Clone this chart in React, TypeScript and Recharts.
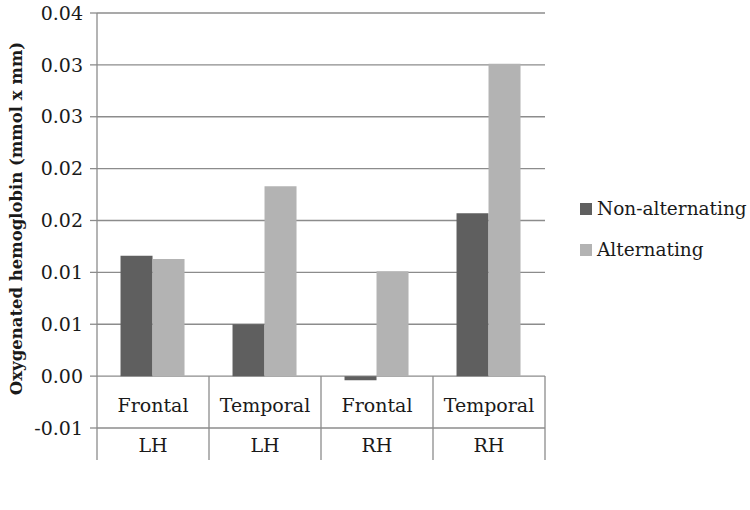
import { Bar, BarChart, CartesianGrid, XAxis, YAxis } from "recharts"

// regions and hemispheres, one entry per group
const regions = ["Frontal", "Temporal", "Frontal", "Temporal"]
const hemispheres = ["LH", "LH", "RH", "RH"]

// oxygenated hemoglobin per condition
const nonAlternating = [0.0116, 0.005, -0.0004, 0.0157]
const alternating = [0.0113, 0.0183, 0.0101, 0.0301]

const seriesNames = ["Non-alternating", "Alternating"]

// the original axis rounds 0.005 steps to two decimals
const yTickValues = [-0.005, 0, 0.005, 0.01, 0.015, 0.02, 0.025, 0.03, 0.035]
const yTickLabels = ["-0.01", "0.00", "0.01", "0.01", "0.02", "0.02", "0.03", "0.03", "0.04"]

const data = regions.map((region, i) => ({
  key: `${hemispheres[i]}-${region}-${i}`,
  region,
  hemi: hemispheres[i],
  nonAlt: nonAlternating[i],
  alt: alternating[i],
}))

const FONT = "'DejaVu Serif', 'Liberation Serif', serif"
const GRID = "#8c8c8c"
const DARK = "#5f5f5f"
const LIGHT = "#b3b3b3"

const HALF_BAND = 56

const CategoryTick = (props: any) => {
  const { x, y, index } = props
  const row = data[index]
  return (
    <g>
      <text x={x} y={y - 16} textAnchor="middle" fontFamily={FONT} fontSize={19} fill="#1a1a1a">
        {row.region}
      </text>
      <text x={x} y={y + 24} textAnchor="middle" fontFamily={FONT} fontSize={19} fill="#1a1a1a">
        {row.hemi}
      </text>
      <line x1={x + HALF_BAND} x2={x + HALF_BAND} y1={y - 52} y2={y + 32} stroke={GRID} strokeWidth={1.3} />
      {index === 0 && (
        <line x1={x - HALF_BAND} x2={x - HALF_BAND} y1={y} y2={y + 32} stroke={GRID} strokeWidth={1.3} />
      )}
    </g>
  )
}

export default function App() {
  return (
    <div style={{ position: "absolute", left: 0, top: 0, width: 750, height: 510, background: "#fff" }}>
      <BarChart
        width={750}
        height={510}
        data={data}
        margin={{ top: 13, right: 205, bottom: 32, left: 0 }}
        barCategoryGap="21%"
        barGap={0}
      >
        <CartesianGrid vertical={false} stroke={GRID} strokeWidth={1.3} />
        <XAxis
          dataKey="key"
          axisLine={false}
          tickLine={false}
          tickSize={0}
          tickMargin={0}
          interval={0}
          tick={<CategoryTick />}
          height={50}
        />
        <YAxis
          width={97}
          domain={[-0.005, 0.035]}
          ticks={yTickValues}
          tickFormatter={(v: number) => yTickLabels[yTickValues.indexOf(v)]}
          axisLine={{ stroke: GRID, strokeWidth: 1.3 }}
          tickLine={{ stroke: GRID, strokeWidth: 1.3 }}
          tickSize={7}
          tickMargin={7}
          tick={{ fontFamily: FONT, fontSize: 19, fill: "#1a1a1a" }}
          label={{
            value: "Oxygenated hemoglobin (mmol x mm)",
            angle: -90,
            position: "center",
            dx: -32,
            dy: -2,
            style: { fontFamily: FONT, fontSize: 16.5, fontWeight: "bold", fill: "#1a1a1a", textAnchor: "middle" },
          }}
        />
        <Bar dataKey="nonAlt" name={seriesNames[0]} fill={DARK} isAnimationActive={false} />
        <Bar dataKey="alt" name={seriesNames[1]} fill={LIGHT} isAnimationActive={false} />
      </BarChart>
      <div style={{ position: "absolute", left: 580, top: 188, fontFamily: FONT, fontSize: 18.5, color: "#1a1a1a" }}>
        {seriesNames.map((label, i) => (
          <div key={label} style={{ display: "flex", alignItems: "center", height: 41 }}>
            <span
              style={{ display: "inline-block", width: 12, height: 12, background: i === 0 ? DARK : LIGHT, marginRight: 5 }}
            />
            {label}
          </div>
        ))}
      </div>
    </div>
  )
}
